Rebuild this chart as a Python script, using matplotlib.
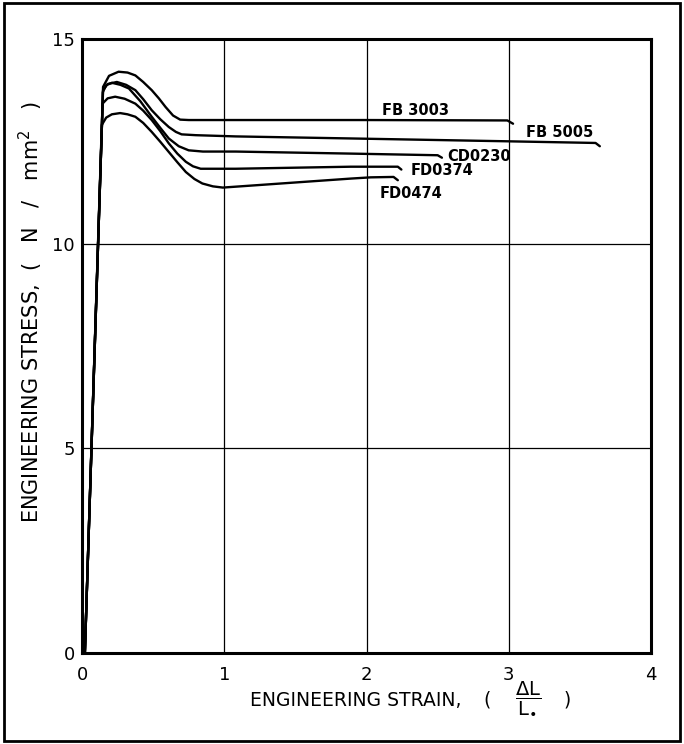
import matplotlib
matplotlib.use('agg')
import matplotlib.pyplot as plt
from matplotlib.patches import Rectangle

plt.rcParams['mathtext.fontset'] = 'dejavusans'

# stress-strain curves
fb3003_x = [0.02, 0.14, 0.148, 0.19, 0.257, 0.32, 0.375, 0.43, 0.49, 0.54, 0.587, 0.64, 0.69, 0.75, 1.0, 2.0, 2.99, 3.03]
fb3003_y = [0, 12.9, 13.83, 14.1, 14.2, 14.18, 14.11, 13.95, 13.75, 13.55, 13.34, 13.13, 13.03, 13.02, 13.02, 13.02, 13.01, 12.93]

fb5005_x = [0.02, 0.14, 0.148, 0.18, 0.245, 0.31, 0.375, 0.43, 0.49, 0.55, 0.61, 0.66, 0.70, 0.80, 1.08, 1.89, 3.0, 3.61, 3.64]
fb5005_y = [0, 12.9, 13.75, 13.9, 13.95, 13.88, 13.75, 13.53, 13.26, 13.04, 12.85, 12.73, 12.67, 12.65, 12.62, 12.57, 12.50, 12.46, 12.38]

cd0230_x = [0.02, 0.14, 0.146, 0.17, 0.21, 0.27, 0.33, 0.41, 0.49, 0.55, 0.61, 0.68, 0.75, 0.85, 1.08, 1.89, 2.50, 2.53]
cd0230_y = [0, 12.9, 13.7, 13.87, 13.93, 13.88, 13.79, 13.48, 13.10, 12.83, 12.57, 12.38, 12.28, 12.25, 12.25, 12.20, 12.16, 12.10]

fd0374_x = [0.02, 0.14, 0.144, 0.18, 0.233, 0.30, 0.375, 0.43, 0.49, 0.55, 0.61, 0.67, 0.73, 0.78, 0.834, 0.95, 1.08, 1.89, 2.22, 2.245]
fd0374_y = [0, 12.9, 13.42, 13.55, 13.59, 13.54, 13.42, 13.25, 13.02, 12.75, 12.45, 12.2, 12.0, 11.89, 11.83, 11.83, 11.83, 11.88, 11.88, 11.81]

fd0474_x = [0.02, 0.139, 0.17, 0.21, 0.268, 0.32, 0.375, 0.43, 0.49, 0.55, 0.61, 0.67, 0.73, 0.79, 0.846, 0.92, 0.99, 1.89, 2.03, 2.19, 2.22]
fd0474_y = [0, 12.9, 13.08, 13.16, 13.19, 13.16, 13.10, 12.95, 12.73, 12.49, 12.24, 11.99, 11.75, 11.58, 11.47, 11.40, 11.37, 11.59, 11.62, 11.63, 11.55]

curve_names = ['FB 3003', 'FB 5005', 'CD0230', 'FD0374', 'FD0474']
label_x = [2.11, 3.12, 2.57, 2.31, 2.09]
label_y = [13.26, 12.71, 12.12, 11.79, 11.23]

x_ticks = [0, 1, 2, 3, 4]
y_ticks = [0, 5, 10, 15]


fig = plt.figure(figsize=(6.84, 7.44), dpi=100)
ax = fig.add_axes([0.1199, 0.1223, 0.8319, 0.8253])

# outer frame around the whole figure
fig.patches.append(Rectangle((0.006, 0.004), 0.988, 0.992, transform=fig.transFigure,
                             fill=False, edgecolor='black', linewidth=2.0))

curves = [(fb3003_x, fb3003_y), (fb5005_x, fb5005_y), (cd0230_x, cd0230_y),
          (fd0374_x, fd0374_y), (fd0474_x, fd0474_y)]
for (xs, ys) in curves:
    ax.plot(xs, ys, color='black', linewidth=1.7, solid_joinstyle='round', solid_capstyle='round')

for name, lx, ly in zip(curve_names, label_x, label_y):
    ax.text(lx, ly, name, fontsize=10.5, ha='left', va='center', fontweight='bold')

ax.set_xlim(0, 4)
ax.set_ylim(0, 15)
ax.set_xticks(x_ticks)
ax.set_yticks(y_ticks)
ax.tick_params(length=0, labelsize=13)
ax.tick_params(axis='x', pad=9)
ax.tick_params(axis='y', pad=5)

ax.grid(True, color='black', linewidth=0.9)
for s in ax.spines.values():
    s.set_linewidth(2.2)

ax.set_ylabel('ENGINEERING STRESS,  (   N   /   mm$^2$   )', fontsize=15)
ax.yaxis.set_label_coords(-0.065, 0.555)

# x label: text, fraction and brackets placed as in the original
fig.text(250 / 684, 1 - 706 / 744, 'ENGINEERING STRAIN,', fontsize=13.5, ha='left', va='baseline')
fig.text(487 / 684, 1 - 706 / 744, '(', fontsize=13.5, ha='center', va='baseline')
fig.text(528 / 684, 1 - 698 / 744, r'$\dfrac{\Delta\mathrm{L}}{\mathrm{L}_{\bullet}}$',
         fontsize=14, ha='center', va='center')
fig.text(567 / 684, 1 - 706 / 744, ')', fontsize=13.5, ha='center', va='baseline')

fig.savefig('out.png', dpi=100)
plt.close(fig)
